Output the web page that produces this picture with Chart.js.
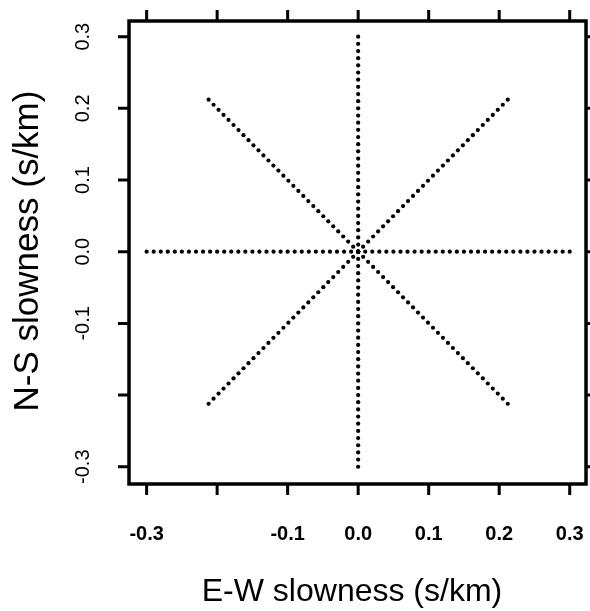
<!DOCTYPE html>
<html>
<head>
<meta charset="utf-8">
<title>Slowness grid</title>
<script src="https://cdn.jsdelivr.net/npm/chart.js@4.4.1/dist/chart.umd.min.js"></script>
<style>
  html, body { margin: 0; padding: 0; background: #fff; overflow: hidden; }
  #wrap { position: relative; width: 590px; height: 611px; }
</style>
</head>
<body>
<div id="wrap"><canvas id="slowness-chart"></canvas></div>
<script>
// Ray azimuths (degrees from north) and slowness radii (s/km) of the grid
const azimuths = [0, 45, 90, 135, 180, 225, 270, 315];
const radii = [0.00, 0.01, 0.02, 0.03, 0.04, 0.05, 0.06, 0.07, 0.08, 0.09, 0.10,
               0.11, 0.12, 0.13, 0.14, 0.15, 0.16, 0.17, 0.18, 0.19, 0.20,
               0.21, 0.22, 0.23, 0.24, 0.25, 0.26, 0.27, 0.28, 0.29, 0.30];

// Tick positions and labels (R dropped the -0.2 labels)
const xTicks = [-0.3, -0.2, -0.1, 0.0, 0.1, 0.2, 0.3];
const xTickLabels = ['-0.3', '', '-0.1', '0.0', '0.1', '0.2', '0.3'];
const yTicks = [-0.3, -0.2, -0.1, 0.0, 0.1, 0.2, 0.3];
const yTickLabels = ['-0.3', '', '-0.1', '0.0', '0.1', '0.2', '0.3'];

const xTitle = 'E-W slowness (s/km)';
const yTitle = 'N-S slowness (s/km)';

// polar grid -> E-W / N-S components
const points = [];
azimuths.forEach(az => {
    const a = az * Math.PI / 180;
    radii.forEach(r => {
        points.push({ x: r * Math.sin(a), y: r * Math.cos(a) });
    });
});

const FONT = '"Liberation Sans", Arial, Helvetica, sans-serif';

// Box, ticks and labels, R style, placed through the chart scales
const frameAxes = {
    id: 'frameAxes',
    afterDraw(chart) {
        const { ctx, chartArea: area, scales } = chart;
        const xs = scales.x, ys = scales.y;
        const tickLen = 11;
        ctx.save();
        ctx.strokeStyle = '#000';
        ctx.fillStyle = '#000';

        // ticks on all four sides
        ctx.lineWidth = 3;
        ctx.beginPath();
        xTicks.forEach(v => {
            const px = xs.getPixelForValue(v);
            ctx.moveTo(px, area.bottom); ctx.lineTo(px, area.bottom + tickLen);
            ctx.moveTo(px, area.top); ctx.lineTo(px, area.top - tickLen);
        });
        yTicks.forEach(v => {
            const py = ys.getPixelForValue(v);
            ctx.moveTo(area.left, py); ctx.lineTo(area.left - tickLen, py);
            ctx.moveTo(area.right, py); ctx.lineTo(area.right + tickLen, py);
        });
        ctx.stroke();

        // box
        ctx.lineWidth = 3.5;
        ctx.strokeRect(area.left, area.top, area.right - area.left, area.bottom - area.top);

        // x tick labels
        ctx.font = 'bold 20px ' + FONT;
        ctx.textAlign = 'center';
        ctx.textBaseline = 'alphabetic';
        xTicks.forEach((v, i) => {
            ctx.fillText(xTickLabels[i], xs.getPixelForValue(v), 540);
        });

        // y tick labels, rotated
        ctx.font = '20px ' + FONT;
        yTicks.forEach((v, i) => {
            ctx.save();
            ctx.translate(89, ys.getPixelForValue(v));
            ctx.rotate(-Math.PI / 2);
            ctx.fillText(yTickLabels[i], 0, 0);
            ctx.restore();
        });

        // axis titles
        ctx.font = '32px ' + FONT;
        ctx.fillText(xTitle, 352, 601);

        ctx.save();
        ctx.font = '35px ' + FONT;
        ctx.translate(38, 251);
        ctx.rotate(-Math.PI / 2);
        ctx.fillText(yTitle, 0, 0);
        ctx.restore();

        ctx.restore();
    }
};

const config = {
    type: 'scatter',
    data: {
        datasets: [{
            data: points,
            pointRadius: 2.1,
            pointBackgroundColor: '#000',
            pointBorderWidth: 0
        }]
    },
    options: {
        responsive: true,
        maintainAspectRatio: false,
        animation: false,
        layout: { padding: { left: 129, top: 21, right: 3, bottom: 127 } },
        plugins: { legend: { display: false }, tooltip: { enabled: false } },
        scales: {
            x: { type: 'linear', min: -0.325, max: 0.3231, display: false },
            y: { type: 'linear', min: -0.3241, max: 0.3219, display: false }
        }
    },
    plugins: [frameAxes]
};

const slownessChart = new Chart(document.getElementById('slowness-chart').getContext('2d'), config);
</script>
</body>
</html>
